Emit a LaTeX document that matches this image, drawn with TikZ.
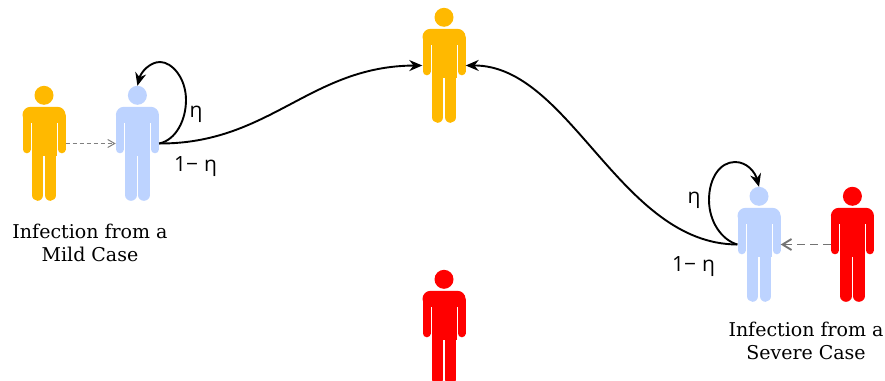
\documentclass[tikz,border=0pt]{standalone}
\usepackage{fontspec}
\setmainfont{DejaVu Serif}
\setsansfont{Open Sans}
\usetikzlibrary{arrows.meta,positioning}
\definecolor{MildAmber}{HTML}{FFB900}
\definecolor{ExposedBlue}{HTML}{BDD3FF}
\definecolor{SevereRed}{HTML}{FF0000}

\begin{document}
\begin{tikzpicture}[
    x=1pt, y=-1pt,
    person/.pic={
        \fill[pic actions] (0,9.5) circle (9.5);
        % shoulders and trunk
        \fill[pic actions, rounded corners=8pt] (-21.5,37) -- (-21.5,21) -- (21.5,21) -- (21.5,37) -- cycle;
        \fill[pic actions] (-12.5,30) rectangle (12.5,70);
        % arms and legs
        \draw[pic actions, draw=., line width=8pt, line cap=round] (-17.5,30) -- (-17.5,63.5) (17.5,30) -- (17.5,63.5);
        \draw[pic actions, draw=., line width=11.5pt, line cap=round] (-6.4,62) -- (-6.4,109.25) (6.4,62) -- (6.4,109.25);
    },
    figure/.style={rectangle, inner sep=0pt, minimum width=43pt, minimum height=115pt, append after command={pic[fill=#1, color=#1] at (\tikzlastnode.north) {person}}},
    figure/.default=MildAmber,
    loopline/.style={-{Stealth[length=13pt,width=11pt]}, line width=1.9pt},
    faintarrow/.style={-{Straight Barb[length=7pt,width=8pt]}, dash pattern=on 4pt off 3pt, gray, line width=1pt},
    darkarrow/.style={-{Straight Barb[length=9pt,width=11pt]}, dash pattern=on 8pt off 5pt, gray!90!black, line width=1.9pt},
    caption/.style={align=center, font=\fontsize{19}{23}\selectfont},
    rate/.style={font=\sffamily\fontsize{21}{23}\selectfont},
]
\useasboundingbox (0,0) rectangle (885,380);

% ── People ──
\node[figure] (recovered) at (444,65.5) {};
\node[figure=SevereRed] (dead) at (444,327.5) {};
\node[figure] (mildsrc) at (44,143.5) {};
\node[figure=ExposedBlue, right=50pt of mildsrc] (mildcase) {};
\node[figure=ExposedBlue] (severecase) at (759,244.5) {};
\node[figure=SevereRed, right=50pt of severecase] (severesrc) {};

% ── Arrows ──
\draw[faintarrow] (mildsrc) -- (mildcase);
\draw[darkarrow] (severesrc) -- (severecase);
\draw[loopline] (mildcase.east) .. controls (270,144) and (310,66) .. (recovered.west);
\draw[loopline] (severecase.west) .. controls (620,244) and (570,65) .. (recovered.east);
\draw[loopline] (mildcase.east) .. controls (176,140) and (186,120) .. (186,100) .. controls (186,78) and (172,62) .. (160,62) .. controls (150,62) and (141,72) .. (mildcase.north);
\draw[loopline] (severecase.west) .. controls (722,240) and (709,222) .. (709,200) .. controls (709,178) and (720,162) .. (735,162) .. controls (747,162) and (755,172) .. (severecase.north);

% ── Labels ──
\node[rate] (etamild) at (196,114) {η};
\node[rate] (restmild) at (195.5,167) {1−\hspace{6pt}η};
\node[rate] (etasevere) at (694,200) {η};
\node[rate] (restsevere) at (693.5,267) {1−\hspace{6pt}η};
\node[caption] (mildtext) at (90,242.5) {Infection from a\\Mild Case};
\node[caption] (severetext) at (806,340.5) {Infection from a\\Severe Case};

\end{tikzpicture}
\end{document}
